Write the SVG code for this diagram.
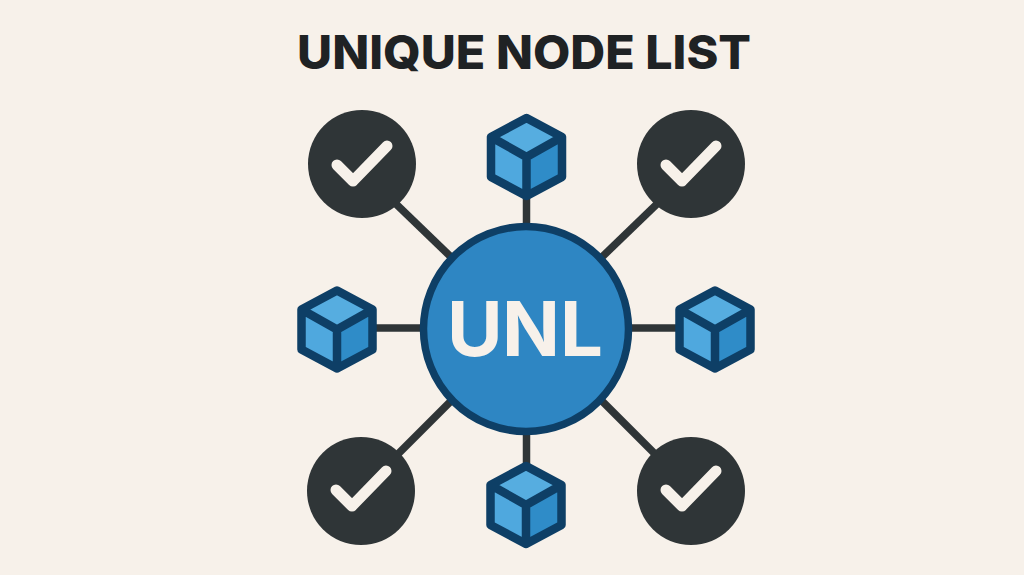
<svg xmlns="http://www.w3.org/2000/svg" width="1024" height="575" viewBox="0 0 1024 575">
<style>
.t{font-family:Inter,"Liberation Sans",sans-serif}
.link{stroke:#2f3537;stroke-width:7.5;fill:none}
.dark{fill:#2f3537}
.chk{fill:none;stroke:#f7f1ea;stroke-width:11;stroke-linecap:round;stroke-linejoin:round}
.edge{stroke:#0e3f66;stroke-width:8.500;stroke-linejoin:round;stroke-linecap:round}
</style>
<defs>
<g id="cube">
<path d="M0,-39 L35.500,-20 L0,0 L-35.500,-20Z" fill="#56ade0"/>
<path d="M-35.500,-20 L0,0 L0,39 L-35.500,20Z" fill="#4fa8de"/>
<path d="M35.500,-20 L0,0 L0,39 L35.500,20Z" fill="#2f8cc8"/>
<path d="M0,-39 L35.500,-20 L35.500,20 L0,39 L-35.500,20 L-35.500,-20Z M-35.500,-20 L0,0 L35.500,-20 M0,0 L0,39" fill="none" class="edge"/>
</g>
<path id="check" d="M-25,1 L-9,17 L25,-18" class="chk"/>
</defs>
<rect width="1024" height="575" fill="#f7f1ea"/>
<text class="t" x="524" y="69" font-size="47" font-weight="800" text-anchor="middle" fill="#1f2224" textLength="454" lengthAdjust="spacingAndGlyphs">UNIQUE NODE LIST</text>
<g id="connectors">
<path class="link" d="M395,203 L452,258"/>
<path class="link" d="M658,203 L601,258"/>
<path class="link" d="M397,455 L452,400"/>
<path class="link" d="M656,455 L601,400"/>
<path class="link" d="M526.500,195 L526.500,228"/>
<path class="link" d="M526.500,430 L526.500,465"/>
<path class="link" d="M372,328 L425,328"/>
<path class="link" d="M628,328 L682,328"/>
</g>
<g id="node-check-tl"><circle class="dark" cx="362" cy="164" r="54"/><use href="#check" x="362" y="164"/></g>
<g id="node-check-tr"><circle class="dark" cx="691" cy="164" r="54"/><use href="#check" x="691" y="164"/></g>
<g id="node-check-bl"><circle class="dark" cx="361" cy="491" r="54"/><use href="#check" x="361" y="489"/></g>
<g id="node-check-br"><circle class="dark" cx="691" cy="491" r="54"/><use href="#check" x="691" y="489"/></g>
<g id="node-cube-top"><use href="#cube" x="526.500" y="157"/></g>
<g id="node-cube-left"><use href="#cube" x="337" y="329.500"/></g>
<g id="node-cube-right"><use href="#cube" x="715" y="329.500"/></g>
<g id="node-cube-bottom"><use href="#cube" x="526" y="505"/></g>
<g id="node-unl">
<circle cx="526" cy="329" r="102.500" fill="#2e86c3" stroke="#0e3f66" stroke-width="7.500"/>
<text class="t" x="447 502 560" y="356" font-size="76" font-weight="700" fill="#f7f1ea">UNL</text>
</g>
</svg>
